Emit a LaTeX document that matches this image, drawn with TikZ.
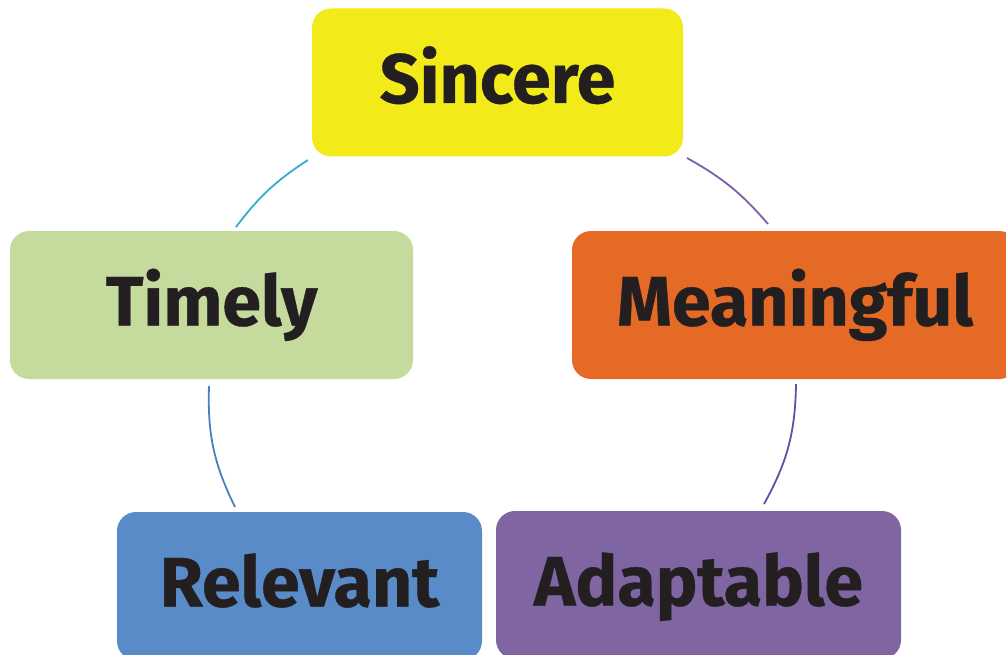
\documentclass[tikz,border=0pt]{standalone}
\usepackage{fontspec}
\setmainfont{Fira Sans}[BoldFeatures={FakeBold=0.5}]
\definecolor{cYellow}{HTML}{F2EA19}
\definecolor{cGreen}{HTML}{C5DA9D}
\definecolor{cOrange}{HTML}{E46A25}
\definecolor{cBlue}{HTML}{588BC8}
\definecolor{cPurple}{HTML}{8065A3}
\definecolor{cText}{HTML}{231F20}
\definecolor{aCyan}{HTML}{3AA8CF}
\definecolor{aPurple}{HTML}{7B5EA7}
\definecolor{aViolet}{HTML}{5E52A8}
\definecolor{aBlue}{HTML}{4A7FC2}
\tikzset{
  box/.style={rounded corners=19pt, inner sep=0pt, text=cText,
    font=\fontsize{70}{70}\selectfont\bfseries,
    text height=48pt, text depth=7pt, minimum height=148pt},
  link/.style={line width=1.8pt}
}
\begin{document}
\begin{tikzpicture}[x=1pt,y=-1pt]
\clip (0,0) rectangle (1006,655);
\fill[white] (0,0) rectangle (1006,655);
\node[box, fill=cYellow, minimum width=371pt] (sincere) at (497.5,82.5) {Sincere};
\node[box, fill=cGreen, minimum width=403pt] (timely) at (211.5,305) {Timely};
\node[box, fill=cOrange, minimum width=446pt] (meaningful) at (795,305) {Meaningful};
\node[box, fill=cBlue, minimum width=365pt] (relevant) at (299.5,586) {Relevant};
\node[box, fill=cPurple, minimum width=405pt] (adaptable) at (698.5,585) {Adaptable};
\coordinate (a1s) at (236,227);
\coordinate (a1e) at (308,160);
\coordinate (a2s) at (687,158);
\coordinate (a2e) at (768,224);
\coordinate (a3s) at (796,384);
\coordinate (a3e) at (764,504);
\coordinate (a4s) at (235,507);
\coordinate (a4e) at (209,386);
\draw[link, aCyan] (a1s) to[bend left=10] (a1e);
\draw[link, aPurple] (a2s) to[bend left=10] (a2e);
\draw[link, aViolet] (a3s) to[bend left=14] (a3e);
\draw[link, aBlue] (a4s) to[bend left=14] (a4e);
\end{tikzpicture}
\end{document}
